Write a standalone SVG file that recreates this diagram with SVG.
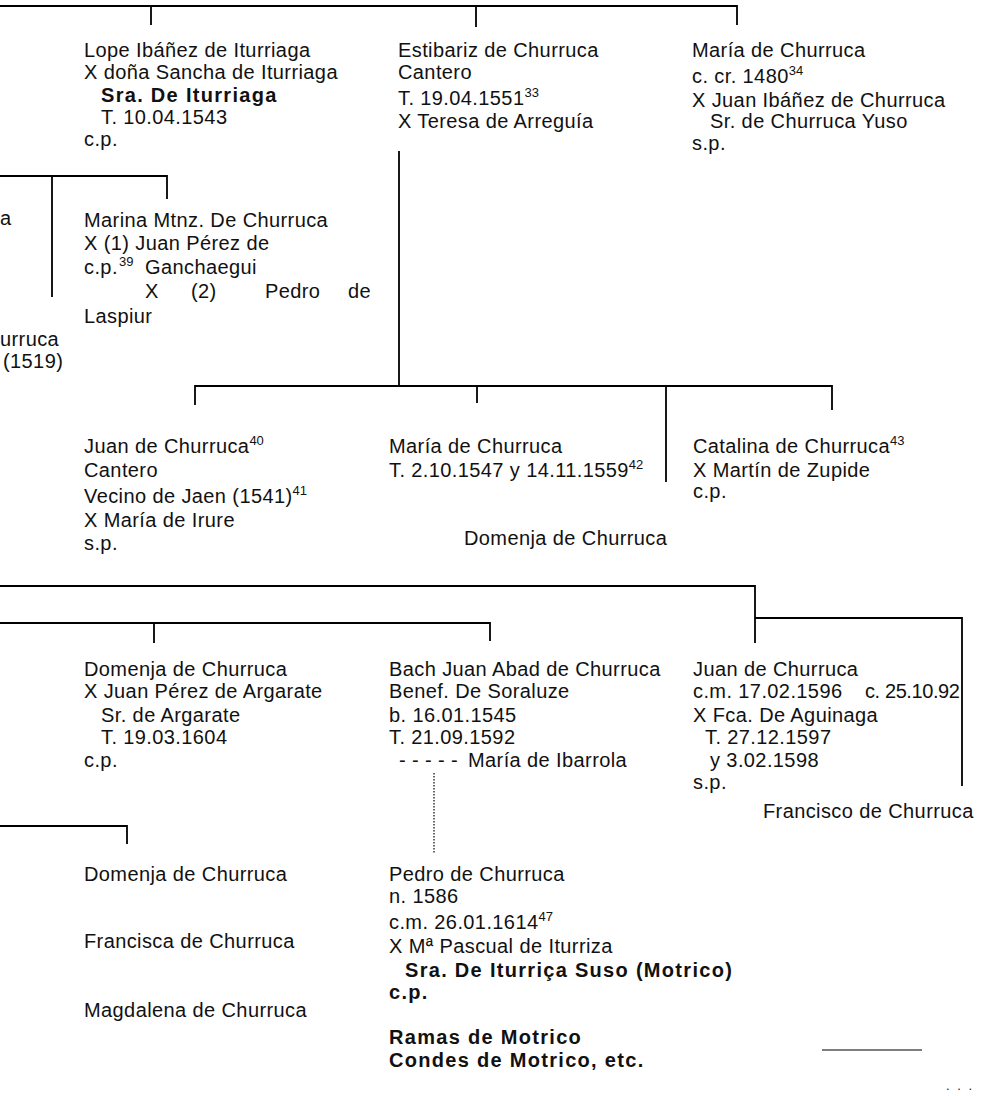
<svg xmlns="http://www.w3.org/2000/svg" width="982" height="1096" viewBox="0 0 982 1096">
<style>
text{font-family:"Liberation Sans",Arial,sans-serif;font-size:20px;letter-spacing:0.4px;fill:#111}
.b{font-weight:bold;letter-spacing:1.3px}
.s{font-size:13px;letter-spacing:0}
.c path{fill:none;stroke:#000;stroke-width:1.8}
.c .d{stroke-width:1.2;stroke-dasharray:1.5 1.5}
.c .thin{stroke-width:1.2}
</style>
<rect width="982" height="1096" fill="#fff"/>
<g class="c" id="connectors">
<path d="M0,6 H737 V25 M151,6 V25 M476,6 V27"/>
<path d="M0,176 H167 V199 M52,176 V297"/>
<path d="M399,151 V386 M195,405 V386 H832 V410 M477,386 V403 M666,386 V482"/>
<path d="M0,586 H755 V643 M755,618 H962 V786"/>
<path d="M0,623 H490 V641 M154,623 V643"/>
<path d="M0,826 H127 V844"/>
<path class="d" d="M434,773 V853"/>
<path class="thin" d="M822,1050 H922"/>
</g>
<g id="lope">
<text x="84" y="57">Lope Ibáñez de Iturriaga</text>
<text x="84" y="79">X doña Sancha de Iturriaga</text>
<text x="101" y="102" class="b">Sra. De Iturriaga</text>
<text x="101" y="124">T. 10.04.1543</text>
<text x="84" y="146">c.p.</text>
</g>
<g id="estibariz">
<text x="398" y="57">Estibariz de Churruca</text>
<text x="398" y="79">Cantero</text>
<text x="398" y="105">T. 19.04.1551<tspan class="s" dy="-8">33</tspan></text>
<text x="398" y="128">X Teresa de Arreguía</text>
</g>
<g id="maria-top">
<text x="692" y="57">María de Churruca</text>
<text x="692" y="83">c. cr. 1480<tspan class="s" dy="-8">34</tspan></text>
<text x="692" y="107">X Juan Ibáñez de Churruca</text>
<text x="710" y="128">Sr. de Churruca Yuso</text>
<text x="692" y="150">s.p.</text>
</g>
<g id="left-fragment">
<text x="0" y="225">a</text>
<text x="0" y="346">urruca</text>
<text x="3" y="368">(1519)</text>
</g>
<g id="marina">
<text x="84" y="227">Marina Mtnz. De Churruca</text>
<text x="84" y="250">X (1) Juan Pérez de</text>
<text x="84" y="274">c.p.<tspan class="s" x="119" y="266">39</tspan><tspan x="145" y="274">Ganchaegui</tspan></text>
<text y="298"><tspan x="145">X</tspan><tspan x="191">(2)</tspan><tspan x="265">Pedro</tspan><tspan x="348">de</tspan></text>
<text x="84" y="323">Laspiur</text>
</g>
<g id="juan-cantero">
<text x="84" y="453">Juan de Churruca<tspan class="s" dy="-8">40</tspan></text>
<text x="84" y="477">Cantero</text>
<text x="84" y="503">Vecino de Jaen (1541)<tspan class="s" dy="-8">41</tspan></text>
<text x="84" y="527">X María de Irure</text>
<text x="84" y="550">s.p.</text>
</g>
<g id="maria-mid">
<text x="389" y="453">María de Churruca</text>
<text x="389" y="477">T. 2.10.1547 y 14.11.1559<tspan class="s" dy="-8">42</tspan></text>
</g>
<g id="domenja-mid">
<text x="464" y="545">Domenja de Churruca</text>
</g>
<g id="catalina">
<text x="693" y="453">Catalina de Churruca<tspan class="s" dy="-8">43</tspan></text>
<text x="693" y="477">X Martín de Zupide</text>
<text x="693" y="498">c.p.</text>
</g>
<g id="domenja-argarate">
<text x="84" y="676">Domenja de Churruca</text>
<text x="84" y="698">X Juan Pérez de Argarate</text>
<text x="101" y="722">Sr. de Argarate</text>
<text x="101" y="744">T. 19.03.1604</text>
<text x="84" y="767">c.p.</text>
</g>
<g id="bach-juan">
<text x="389" y="676">Bach Juan Abad de Churruca</text>
<text x="389" y="698">Benef. De Soraluze</text>
<text x="389" y="722">b. 16.01.1545</text>
<text x="389" y="744">T. 21.09.1592</text>
<text x="399" y="767">- - - - -</text>
<text x="468" y="767">María de Ibarrola</text>
</g>
<g id="juan-aguinaga">
<text x="693" y="676">Juan de Churruca</text>
<text x="693" y="698">c.m. 17.02.1596</text>
<text x="865" y="698" style="letter-spacing:-0.4px">c. 25.10.92</text>
<text x="693" y="722">X Fca. De Aguinaga</text>
<text x="705" y="744">T. 27.12.1597</text>
<text x="710" y="767">y 3.02.1598</text>
<text x="693" y="789">s.p.</text>
</g>
<g id="francisco">
<text x="763" y="818">Francisco de Churruca</text>
</g>
<g id="hermanas">
<text x="84" y="881">Domenja de Churruca</text>
<text x="84" y="948">Francisca de Churruca</text>
<text x="84" y="1017">Magdalena de Churruca</text>
</g>
<g id="pedro">
<text x="389" y="881">Pedro de Churruca</text>
<text x="389" y="903">n. 1586</text>
<text x="389" y="929">c.m. 26.01.1614<tspan class="s" dy="-8">47</tspan></text>
<text x="389" y="953">X Mª Pascual de Iturriza</text>
<text x="405" y="977" class="b">Sra. De Iturriça Suso (Motrico)</text>
<text x="389" y="999" class="b">c.p.</text>
<text x="389" y="1044" class="b">Ramas de Motrico</text>
<text x="389" y="1067" class="b">Condes de Motrico, etc.</text>
</g>
<g id="ellipsis">
<text x="946" y="1090" style="font-size:13px;letter-spacing:2px">. . .</text>
</g>
</svg>
